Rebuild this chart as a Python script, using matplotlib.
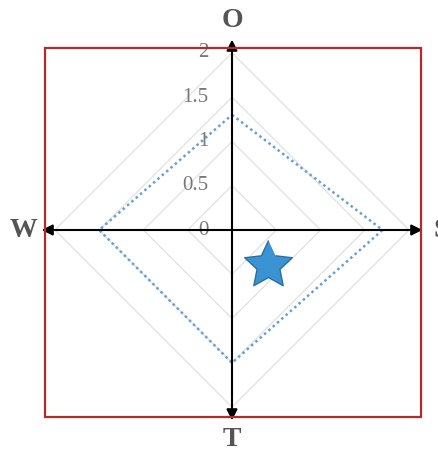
import numpy as np
import matplotlib.pyplot as plt
from matplotlib.patches import Rectangle
from matplotlib.path import Path

plt.rcParams['font.family'] = ['Liberation Serif', 'DejaVu Serif']

# radar axes, clockwise from the top
axis_labels = ["O", "S", "T", "W"]
values = [1.3, 1.7, 1.5, 1.5]
ring_levels = [0.5, 1.0, 1.5, 2.0]
tick_values = [0, 0.5, 1, 1.5, 2]
tick_labels = ["0", "0.5", "1", "1.5", "2"]
star_x, star_y = 0.41, -0.40

n = len(axis_labels)
theta = np.pi / 2 - np.arange(n) * 2 * np.pi / n
theta_closed = np.append(theta, theta[0])

W, H = 439, 451
fig = plt.figure(figsize=(W / 100, H / 100), dpi=100)
side = 372
cx, cy = 232, 230
ax = fig.add_axes([(cx - side / 2) / W, (H - cy - side / 2) / H,
                   side / W, side / H], projection='polar')
ax.set_ylim(0, 2.1)
ax.axis('off')

# red frame around the chart
fig.patches.append(Rectangle((45 / W, (H - 417) / H), 376 / W, 369 / H,
                             transform=fig.transFigure, fill=False,
                             edgecolor='#b22a2a', lw=1.6, zorder=0))

# diamond grid
for lvl in ring_levels:
    ax.plot(theta_closed, [lvl] * (n + 1), color='#e2e2e2', lw=0.9, zorder=2)

# data series
vals_closed = values + values[:1]
ax.plot(theta_closed, vals_closed, color='#62a0d6', lw=1.8,
        ls=(0, (1, 1.3)), zorder=3)

# spokes with arrowheads
for th in theta:
    ax.annotate('', xy=(th, 2.15), xytext=(th, 0), annotation_clip=False,
                arrowprops=dict(arrowstyle='-|>', color='black', lw=1.5,
                                mutation_scale=16, shrinkA=0, shrinkB=0),
                zorder=4)

# radial tick labels
for v, lbl in zip(tick_values, tick_labels):
    ax.annotate(lbl, xy=(np.pi / 2, v), xytext=(-17, 0),
                textcoords='offset points', ha='right', va='center',
                fontsize=15, color='#777777', annotation_clip=False)

# axis names
for th, lbl in zip(theta, axis_labels):
    ax.text(th, 2.36, lbl, ha='center', va='center', fontsize=20,
            fontweight='bold', color='#555555', clip_on=False)

# star marker (fat five-point star)
ang = np.pi / 2 + np.arange(10) * np.pi / 5
rad = np.where(np.arange(10) % 2 == 0, 1.0, 0.48)
star = Path(np.column_stack([rad * np.cos(ang), rad * np.sin(ang)]))
ax.plot(np.arctan2(star_y, star_x), np.hypot(star_x, star_y), marker=star,
        ms=36, mfc='#3a93d3', mec='#2b6e9f', mew=1, zorder=5)

fig.savefig('out.png', dpi=100)
